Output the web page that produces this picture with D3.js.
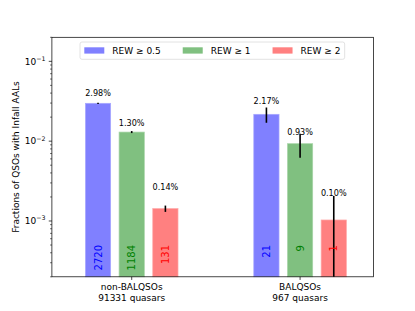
<!DOCTYPE html>
<html>
<head>
<meta charset="utf-8">
<script src="https://cdn.jsdelivr.net/npm/d3@7"></script>
<style>
  body { margin: 0; background: #fff; }
  text { font-family: "DejaVu Sans", sans-serif; fill: #000; }
</style>
</head>
<body>
<div id="chart"></div>
<script>
// data
var groups = ["non-BALQSOs", "BALQSOs"];
var groupTotals = ["91331 quasars", "967 quasars"];
var seriesNames = ["REW \u2265 0.5", "REW \u2265 1", "REW \u2265 2"];
var counts = [[2720, 1184, 131], [21, 9, 1]];
var fractions = [[0.0298, 0.0130, 0.00143], [0.0217, 0.0093, 0.00103]];
var errors = [[0.00057, 0.00038, 0.00013], [0.0047, 0.0031, 0.00103]];
var pctLabels = [["2.98%", "1.30%", "0.14%"], ["2.17%", "0.93%", "0.10%"]];
var yTicks = [1e-1, 1e-2, 1e-3];
var yTickExp = ["\u22121", "\u22122", "\u22123"];

var barColors = ["#8080ff", "#80c080", "#ff8080"];
var edgeColors = ["#a8a8ff", "#a8d4a8", "#ffa8a8"];
var textColors = ["blue", "green", "red"];

var svgWidth = 415, svgHeight = 311;
var margin = {top: 37.3, right: 41.5, bottom: 34.2, left: 51.9};
var chartWidth = svgWidth - margin.left - margin.right;
var chartHeight = svgHeight - margin.top - margin.bottom;

var svg = d3.select("#chart").append("svg")
    .attr("width", svgWidth)
    .attr("height", svgHeight);

var chartGroup = svg.append("g")
    .attr("transform", `translate(${margin.left}, ${margin.top})`);

// scales
var xScale = d3.scaleLinear().domain([-0.474, 1.436]).range([0, chartWidth]);
var yScale = d3.scaleLog().domain([2e-4, 0.2]).range([chartHeight, 0]).clamp(true);

var barW = 0.15, barStep = 0.2;
var labelLift = [0.0075, 0.0025, 0.001];

// bars
groups.forEach(function(g, gi) {
  seriesNames.forEach(function(s, si) {
    var xc = gi + (si - 1) * barStep;
    var x0 = xScale(xc - barW / 2), x1 = xScale(xc + barW / 2);
    chartGroup.append("rect")
      .attr("x", x0)
      .attr("y", yScale(fractions[gi][si]))
      .attr("width", x1 - x0)
      .attr("height", chartHeight - yScale(fractions[gi][si]))
      .attr("fill", barColors[si])
      .attr("stroke", edgeColors[si])
      .attr("stroke-width", 0.7);
  });
});

// error bars
groups.forEach(function(g, gi) {
  seriesNames.forEach(function(s, si) {
    var xc = xScale(gi + (si - 1) * barStep);
    var v = fractions[gi][si], e = errors[gi][si];
    var lo = v - e <= 0 ? 2e-4 : v - e;
    chartGroup.append("line")
      .attr("x1", xc).attr("x2", xc)
      .attr("y1", yScale(lo)).attr("y2", yScale(v + e))
      .attr("stroke", "#000")
      .attr("stroke-width", 1.6);
  });
});

// percent labels above bars
groups.forEach(function(g, gi) {
  seriesNames.forEach(function(s, si) {
    var xc = xScale(gi + (si - 1) * barStep);
    chartGroup.append("text")
      .attr("x", xc)
      .attr("y", yScale(fractions[gi][si] + labelLift[si]))
      .attr("text-anchor", "middle")
      .attr("font-size", "8.1px")
      .text(pctLabels[gi][si]);
  });
});

// counts inside bars (rotated)
groups.forEach(function(g, gi) {
  seriesNames.forEach(function(s, si) {
    var xc = xScale(gi + (si - 1) * barStep);
    var yTop = 245 - margin.top;
    chartGroup.append("text")
      .attr("transform", `translate(${xc}, ${yTop}) rotate(-90)`)
      .attr("text-anchor", "end")
      .attr("dominant-baseline", "central")
      .attr("font-size", "10px")
      .style("fill", textColors[si])
      .text(counts[gi][si]);
  });
});

// y axis: major + minor ticks
var minorTicks = [];
[1e-4, 1e-3, 1e-2, 1e-1].forEach(function(dec) {
  for (var k = 2; k <= 9; k++) {
    var t = dec * k;
    if (t >= 2e-4 && t <= 0.2) minorTicks.push(t);
  }
});
var yAxisG = chartGroup.append("g");
minorTicks.forEach(function(t) {
  yAxisG.append("line")
    .attr("x1", -1.8).attr("x2", 0)
    .attr("y1", yScale(t)).attr("y2", yScale(t))
    .attr("stroke", "#000").attr("stroke-width", 0.6);
});
yTicks.forEach(function(t, i) {
  yAxisG.append("line")
    .attr("x1", -3.15).attr("x2", 0)
    .attr("y1", yScale(t)).attr("y2", yScale(t))
    .attr("stroke", "#000").attr("stroke-width", 0.72);
  var lbl = yAxisG.append("text")
    .attr("x", -6.3)
    .attr("y", yScale(t) + 3.3)
    .attr("text-anchor", "end")
    .attr("font-size", "9px");
  lbl.append("tspan").text("10");
  lbl.append("tspan").attr("dy", -3.8).attr("font-size", "6.3px").text(yTickExp[i]);
});

// x axis ticks and two-line labels
groups.forEach(function(g, gi) {
  var xc = xScale(gi);
  chartGroup.append("line")
    .attr("x1", xc).attr("x2", xc)
    .attr("y1", chartHeight).attr("y2", chartHeight + 3.15)
    .attr("stroke", "#000").attr("stroke-width", 0.72);
  chartGroup.append("text")
    .attr("x", xc).attr("y", chartHeight + 13.2)
    .attr("text-anchor", "middle")
    .attr("font-size", "9px")
    .text(g);
  chartGroup.append("text")
    .attr("x", xc).attr("y", chartHeight + 23.8)
    .attr("text-anchor", "middle")
    .attr("font-size", "9px")
    .text(groupTotals[gi]);
});

// frame
chartGroup.append("rect")
  .attr("x", 0).attr("y", 0)
  .attr("width", chartWidth).attr("height", chartHeight)
  .attr("fill", "none")
  .attr("stroke", "#000")
  .attr("stroke-width", 0.72);

// y label
svg.append("text")
  .attr("transform", `translate(15.5, ${margin.top + chartHeight / 2}) rotate(-90)`)
  .attr("text-anchor", "middle")
  .attr("dominant-baseline", "central")
  .attr("font-size", "9px")
  .text("Fractions of QSOs with Infall AALs");

// legend (upper center, 3 columns)
var legend = svg.append("g");
var frame = legend.append("rect")
  .attr("y", 42)
  .attr("height", 17.3)
  .attr("rx", 2)
  .attr("fill", "#fff")
  .attr("fill-opacity", 0.8)
  .attr("stroke", "#d6d6d6")
  .attr("stroke-width", 0.72);
var lx = 84.3, textEnd = 0;
seriesNames.forEach(function(s, si) {
  legend.append("rect")
    .attr("x", lx).attr("y", 47.3)
    .attr("width", 20).attr("height", 6.3)
    .attr("fill", barColors[si]);
  var t = legend.append("text")
    .attr("x", lx + 28).attr("y", 53.6)
    .attr("font-size", "9px")
    .text(s);
  var w = t.node().getComputedTextLength();
  textEnd = lx + 28 + w;
  lx = textEnd + 22;
});
frame.attr("x", 80).attr("width", textEnd + 4.3 - 80);
</script>
</body>
</html>
